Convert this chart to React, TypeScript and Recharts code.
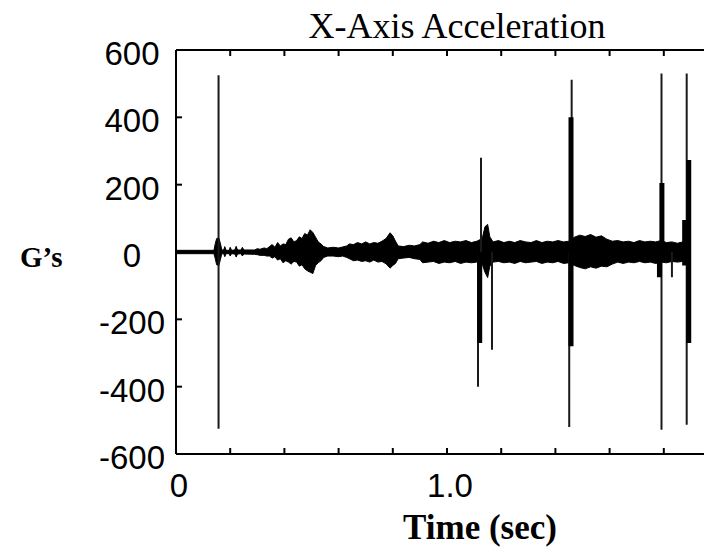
import React from "react";
import { ComposedChart, Area, Line, XAxis, YAxis } from "recharts";

// ---- Data ----
// Vibration band envelope (time in s, upper / lower G's)
const bandT = [
  0, 0.14, 0.145, 0.15, 0.158, 0.164, 0.169, 0.176, 0.18, 0.185,
  0.196, 0.2, 0.205, 0.217, 0.222, 0.227, 0.24, 0.245, 0.25, 0.29,
  0.3, 0.31, 0.325, 0.335, 0.345, 0.355, 0.365, 0.375, 0.385, 0.395,
  0.405, 0.415, 0.425, 0.435, 0.445, 0.455, 0.465, 0.475, 0.485, 0.495,
  0.505, 0.515, 0.525, 0.535, 0.545, 0.56, 0.58, 0.6, 0.615, 0.63,
  0.64, 0.655, 0.67, 0.685, 0.7, 0.715, 0.73, 0.745, 0.76, 0.775,
  0.79, 0.8, 0.81, 0.82, 0.84, 0.86, 0.88, 0.9, 0.91, 0.93,
  0.95, 0.97, 0.99, 1.01, 1.03, 1.05, 1.07, 1.09, 1.11, 1.13,
  1.14, 1.15, 1.158, 1.17, 1.19, 1.21, 1.23, 1.25, 1.27, 1.29,
  1.31, 1.33, 1.35, 1.37, 1.39, 1.41, 1.43, 1.45, 1.47, 1.49,
  1.51, 1.53, 1.55, 1.57, 1.59, 1.61, 1.63, 1.65, 1.67, 1.69,
  1.71, 1.73, 1.75, 1.77, 1.79, 1.81, 1.83, 1.85, 1.87, 1.885,
  1.9,
];
const bandHi = [
  5, 5, 25, 40, 42, 25, 6, 6, 16, 5,
  5, 14, 5, 6, 17, 6, 6, 14, 6, 6,
  10, 8, 12, 10, 16, 22, 14, 28, 18, 24,
  22, 38, 42, 30, 34, 45, 40, 55, 50, 66,
  58, 44, 30, 24, 16, 12, 14, 12, 15, 18,
  24, 22, 28, 24, 30, 24, 28, 26, 32, 40,
  57, 48, 32, 18, 16, 20, 18, 22, 30, 26,
  32, 28, 34, 28, 32, 30, 34, 28, 32, 40,
  75, 82, 45, 30, 34, 28, 32, 28, 34, 30,
  28, 34, 28, 32, 30, 34, 30, 32, 44, 50,
  46, 52, 44, 48, 38, 32, 34, 30, 32, 28,
  34, 30, 32, 30, 34, 28, 30, 26, 30, 32,
  30,
];
const bandLo = [
  -5, -5, -20, -38, -40, -22, -5, -5, -14, -5,
  -5, -12, -5, -6, -15, -6, -5, -12, -6, -7,
  -8, -10, -10, -12, -12, -18, -14, -24, -20, -32,
  -26, -30, -36, -28, -30, -42, -38, -50, -56, -60,
  -64, -40, -32, -26, -16, -12, -12, -14, -12, -16,
  -20, -26, -24, -28, -26, -30, -24, -30, -28, -35,
  -48, -40, -34, -20, -18, -16, -20, -22, -32, -30,
  -28, -34, -30, -32, -28, -34, -30, -32, -30, -36,
  -60, -76, -42, -30, -28, -32, -30, -34, -28, -32,
  -30, -28, -34, -30, -32, -28, -34, -32, -40, -46,
  -50, -44, -48, -42, -44, -36, -30, -34, -30, -32,
  -28, -32, -30, -34, -30, -32, -28, -30, -28, -32,
  -30,
];

// Thin impact spikes (time, min, max)
const spikeT = [0.157, 1.1144, 1.1255, 1.166, 1.451, 1.46, 1.7915, 1.83, 1.8845];
const spikeLo = [-525, -400, 0, -290, -520, 0, -528, -75, -513];
const spikeHi = [525, 0, 280, 0, 0, 512, 530, 0, 530];

// Dense (thick) parts of the impact bursts
const burstT = [1.1207, 1.4576, 1.784, 1.793, 1.877, 1.892];
const burstLo = [-270, -280, -75, -30, -40, -270];
const burstHi = [0, 400, 0, 205, 95, 273];

// Axes
const xTicks = [0, 0.2, 0.4, 0.6, 0.8, 1.0, 1.2, 1.4, 1.6, 1.8];
const xTickLabels = ["0", "", "", "", "", "1.0", "", "", "", ""];
const yTicks = [-600, -400, -200, 0, 200, 400, 600];
const yTickLabels = ["-600", "-400", "-200", "0", "200", "400", "600"];

const title = "X-Axis Acceleration";
const xTitle = "Time (sec)";
const yTitle = "G\u2019s";

// ---- Derived series ----
const bandData = bandT.map((t, i) => ({ t, r: [bandLo[i], bandHi[i]] }));
const toSegments = (ts: number[], lo: number[], hi: number[]) =>
  ts.flatMap((t, i) => [
    { t, v: lo[i] },
    { t, v: hi[i] },
    { t, v: null },
  ]);
const spikeData = toSegments(spikeT, spikeLo, spikeHi);
const burstData = toSegments(burstT, burstLo, burstHi);

const SANS = "'Liberation Sans', Arial, sans-serif";
const SERIF = "'Liberation Serif', 'Times New Roman', serif";

const BottomTick = (props: any) => {
  const { x, y, payload } = props;
  const idx = xTicks.indexOf(payload.value);
  const label = idx >= 0 ? xTickLabels[idx] : "";
  return (
    <g>
      <line x1={x} x2={x} y1={y} y2={y - 6} stroke="#000" strokeWidth={2} />
      {label ? (
        <text x={x + 3} y={y + 43} textAnchor="middle" fontFamily={SANS} fontSize={33} fill="#000">
          {label}
        </text>
      ) : null}
    </g>
  );
};

const TopTick = (props: any) => {
  const { x, y } = props;
  return <line x1={x} x2={x} y1={y} y2={y + 6} stroke="#000" strokeWidth={2} />;
};

const LeftTick = (props: any) => {
  const { x, y, payload } = props;
  const idx = yTicks.indexOf(payload.value);
  const label = idx >= 0 ? yTickLabels[idx] : "";
  return (
    <g>
      <line x1={x} x2={x + 6} y1={y} y2={y} stroke="#000" strokeWidth={2} />
      <text x={x - 44} y={y + 15} textAnchor="middle" fontFamily={SANS} fontSize={33} fill="#000">
        {label}
      </text>
    </g>
  );
};

export default function App() {
  return (
    <div
      style={{
        position: "absolute",
        left: 0,
        top: 0,
        width: 704,
        height: 550,
        overflow: "hidden",
        background: "#fff",
      }}
    >
      <ComposedChart width={718} height={550} margin={{ top: 0, right: 0, bottom: 0, left: 0 }}>
        <XAxis
          xAxisId="b"
          type="number"
          dataKey="t"
          domain={[0, 2]}
          ticks={xTicks}
          interval={0}
          height={96}
          tickSize={0}
          tickMargin={0}
          tickLine={false}
          axisLine={{ stroke: "#000", strokeWidth: 2 }}
          tick={<BottomTick />}
          allowDataOverflow
        />
        <XAxis
          xAxisId="top"
          orientation="top"
          type="number"
          dataKey="t"
          domain={[0, 2]}
          ticks={xTicks}
          interval={0}
          height={50}
          tickSize={0}
          tickMargin={0}
          tickLine={false}
          axisLine={{ stroke: "#000", strokeWidth: 2 }}
          tick={<TopTick />}
          allowDataOverflow
        />
        <YAxis
          type="number"
          domain={[-600, 600]}
          ticks={yTicks}
          interval={0}
          width={176}
          tickSize={0}
          tickMargin={0}
          tickLine={false}
          axisLine={{ stroke: "#000", strokeWidth: 2 }}
          tick={<LeftTick />}
          allowDataOverflow
        />
        <Area
          xAxisId="b"
          data={bandData}
          dataKey="r"
          type="linear"
          stroke="#000"
          strokeWidth={1}
          fill="#000"
          fillOpacity={1}
          isAnimationActive={false}
          dot={false}
          activeDot={false}
        />
        <Line
          xAxisId="b"
          data={spikeData}
          dataKey="v"
          type="linear"
          stroke="#1a1a1a"
          strokeWidth={2}
          dot={false}
          activeDot={false}
          connectNulls={false}
          isAnimationActive={false}
        />
        <Line
          xAxisId="b"
          data={burstData}
          dataKey="v"
          type="linear"
          stroke="#000"
          strokeWidth={5}
          dot={false}
          activeDot={false}
          connectNulls={false}
          isAnimationActive={false}
        />
      </ComposedChart>
      <svg
        width={704}
        height={550}
        style={{ position: "absolute", left: 0, top: 0, pointerEvents: "none" }}
      >
        <text x={457} y={38} textAnchor="middle" fontFamily={SERIF} fontSize={36} fill="#000">
          {title}
        </text>
        <text x={20} y={267} fontFamily={SERIF} fontWeight="bold" fontSize={29} fill="#000">
          {yTitle}
        </text>
        <text x={480} y={539} textAnchor="middle" fontFamily={SERIF} fontWeight="bold" fontSize={35} fill="#000">
          {xTitle}
        </text>
      </svg>
    </div>
  );
}
